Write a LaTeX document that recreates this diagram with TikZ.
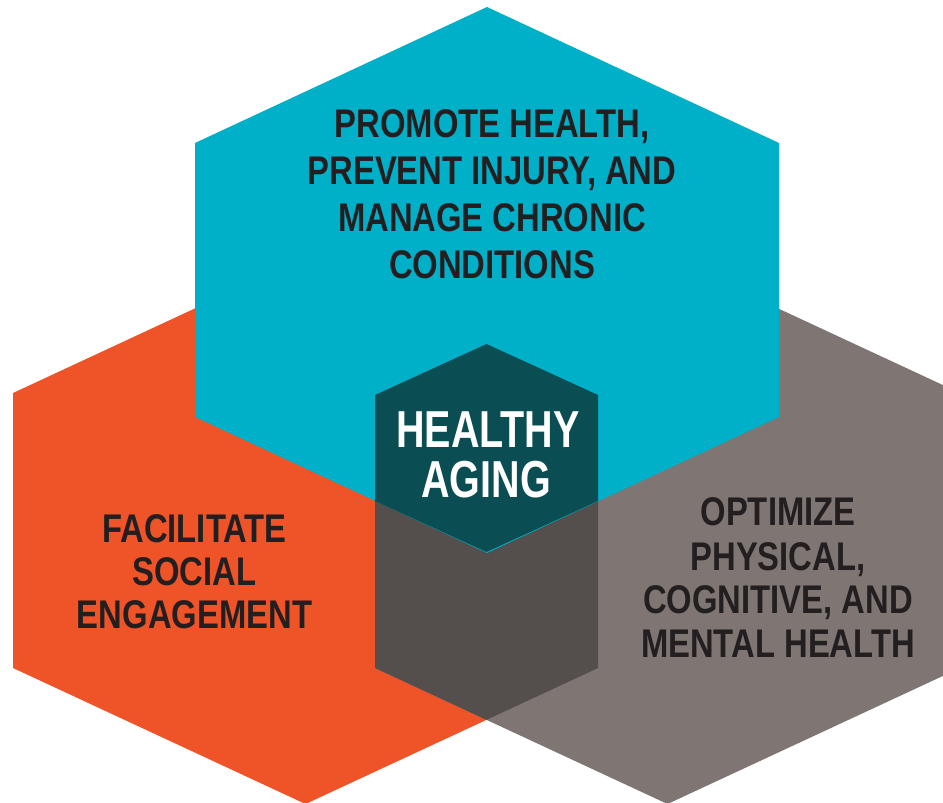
\documentclass[tikz,border=0pt]{standalone}
\usepackage{fontspec}
\newfontfamily\condfont{Liberation Sans Bold}[FakeStretch=0.82]
\newfontfamily\centerfont{Liberation Sans Bold}[FakeStretch=0.76]
\definecolor{tealc}{HTML}{00AFC8}
\definecolor{orangec}{HTML}{EF5428}
\definecolor{grayc}{HTML}{7F7673}
\definecolor{overlapc}{HTML}{544E4C}
\definecolor{centerc}{HTML}{0A4E54}
\definecolor{textdark}{HTML}{231F20}
\begin{document}
\begin{tikzpicture}[x=1pt,y=-1pt,
  lbl/.style={anchor=base, inner sep=0pt, text=textdark,
    font=\condfont\fontsize{40}{40}\selectfont},
  clbl/.style={anchor=base, inner sep=0pt, text=white,
    font=\centerfont\fontsize{52}{52}\selectfont}]
\useasboundingbox (0,0) rectangle (943,803);
\clip (0,0) rectangle (943,803);
% orange hexagon
\fill[orangec] (305.5,257) -- (598,393) -- (598,668) -- (305.5,804) -- (13,668) -- (13,393) -- cycle;
% gray hexagon
\fill[grayc] (667.5,257) -- (960,393) -- (960,668) -- (667.5,804) -- (375,668) -- (375,393) -- cycle;
% overlap of orange and gray
\begin{scope}
  \clip (305.5,257) -- (598,393) -- (598,668) -- (305.5,804) -- (13,668) -- (13,393) -- cycle;
  \fill[overlapc] (667.5,257) -- (960,393) -- (960,668) -- (667.5,804) -- (375,668) -- (375,393) -- cycle;
\end{scope}
% teal hexagon
\fill[tealc] (487,7) -- (779,143) -- (779,417) -- (487,553) -- (195,417) -- (195,143) -- cycle;
% centre hexagon
\fill[centerc] (486.5,344) -- (598,395) -- (598,501) -- (486.5,552) -- (375,501) -- (375,395) -- cycle;
% teal text
\node[lbl] (p1) at (492,137) {PROMOTE HEALTH,};
\node[lbl] (p2) at (492,184) {PREVENT INJURY, AND};
\node[lbl] (p3) at (492,231) {MANAGE CHRONIC};
\node[lbl] (p4) at (492,278) {CONDITIONS};
% orange text
\node[lbl] (f1) at (194.5,542) {FACILITATE};
\node[lbl] (f2) at (194.5,585) {SOCIAL};
\node[lbl] (f3) at (194.5,628) {ENGAGEMENT};
% gray text
\node[lbl] (o1) at (778,525) {OPTIMIZE};
\node[lbl] (o2) at (778,570) {PHYSICAL,};
\node[lbl] (o3) at (778,613) {COGNITIVE, AND};
\node[lbl] (o4) at (778,657) {MENTAL HEALTH};
% centre text
\node[clbl] (h1) at (488,447) {HEALTHY};
\node[clbl] (h2) at (486,497) {AGING};
\end{tikzpicture}
\end{document}
